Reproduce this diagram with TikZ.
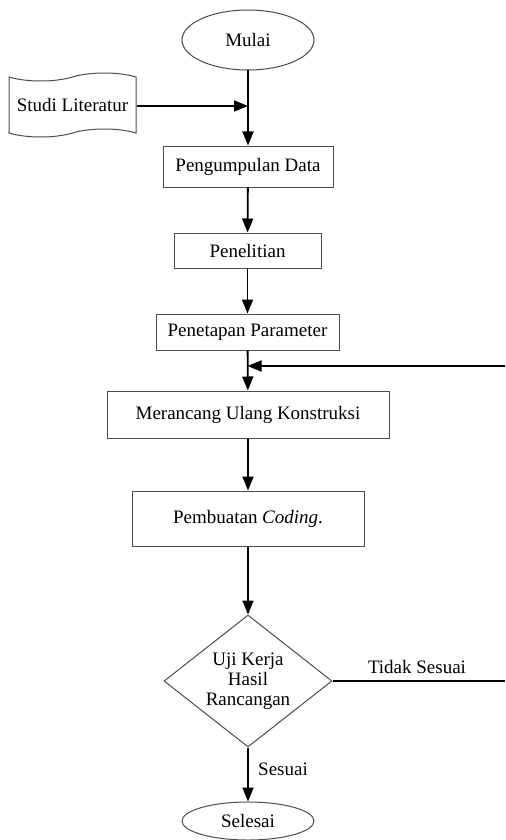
\documentclass[tikz,border=0pt]{standalone}
\usepackage{fontspec}
\setmainfont{Liberation Serif}
\usetikzlibrary{arrows.meta,shapes.geometric,shapes.symbols}
\tikzset{
	box/.style={draw=black!70, line width=0.5pt, rectangle, inner sep=0pt},
	term/.style={draw=black!70, line width=0.5pt, ellipse, inner sep=0pt, minimum width=66pt},
	arr/.style={line width=0.9pt, -{Triangle[length=7pt,width=5.5pt]}},
	line/.style={line width=0.9pt}
}

\begin{document}
\begin{tikzpicture}[x=0.5pt, y=-0.5pt, font=\fontsize{9.5}{10}\selectfont]
			%%%%% START %%%%%
			\useasboundingbox (0, 0) rectangle (505, 840);
			
			\node[term, minimum height=30pt] (mulai) at (248, 40) {Mulai};
			\node[draw=black!70, line width=0.5pt, tape, inner sep=0pt, minimum width=63.5pt, minimum height=32pt, tape bend height=4pt] (studi) at (72.5, 105) {Studi Literatur};
			\coordinate (j1) at (248, 106);
			
			\node[box, minimum width=85pt, minimum height=20.5pt] (kumpul) at (248, 166.5) {Pengumpulan Data};
			\node[box, minimum width=73.5pt, minimum height=17.5pt] (teliti) at (247.5, 250.5) {Penelitian};
			\node[box, minimum width=91.5pt, minimum height=18pt] (tetap) at (247.5, 332) {Penetapan Parameter};
			\node[box, minimum width=141pt, minimum height=23.5pt] (rancang) at (248, 414.5) {Merancang Ulang Konstruksi};
			\node[box, minimum width=116pt, minimum height=27.5pt] (coding) at (248, 518.5) {Pembuatan \textit{Coding}.};
			\node[draw=black!70, line width=0.5pt, diamond, inner sep=0pt, aspect=1.27, minimum width=84pt, minimum height=66pt, align=center] (uji) at (248, 681) {Uji Kerja\\Hasil\\Rancangan};
			\node[term, minimum height=19pt] (selesai) at (248, 821) {Selesai};
			
			\coordinate (fbR) at (505, 366);
			\coordinate (fbL) at (247.5, 366);
			\coordinate (tidakR) at (505, 681);
			
			\node (lbltidak) at (417, 667) {Tidak Sesuai};
			\node (lblsesuai) at (283, 769) {Sesuai};
			
			\draw[arr] (mulai) -- (kumpul);
			\draw[arr] (studi.east |- j1) -- (j1);
			\draw[arr] (kumpul) -- (teliti);
			\draw[arr] (teliti) -- (tetap);
			\draw[arr] (tetap) -- (rancang);
			\draw[arr] (fbR) -- (fbL);
			\draw[arr] (rancang) -- (coding);
			\draw[arr] (coding) -- (uji);
			\draw[line] (uji.east) -- (tidakR);
			\draw[arr] (uji) -- (selesai);
			%%%%% END %%%%%
\end{tikzpicture}
\end{document}
